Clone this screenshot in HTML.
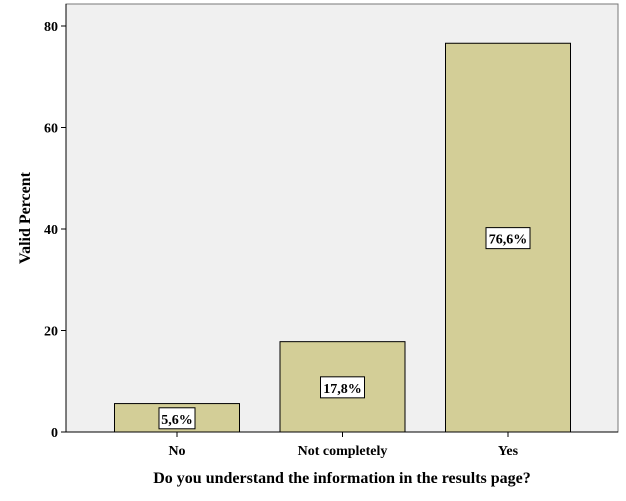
<!DOCTYPE html>
<html><head><meta charset="utf-8"><style>
body{margin:0;background:#fff;}
svg{display:block;font-family:"Liberation Serif",serif;}
</style></head><body>
<svg id="c" width="626" height="501"></svg>
<script>
const categories=["No","Not completely","Yes"];
const values=[5.6,17.8,76.6];
const valueLabels=["5,6%","17,8%","76,6%"];
const yTicks=[0,20,40,60,80];
const svg=document.getElementById('c');
const NS='http://www.w3.org/2000/svg';
const L=66,R=618,T=4,B=432;
const y=v=>B-v*(B-26)/80;
const step=165.5;
const xc=i=>L+111+step*i;
function el(tag,attrs,text){const e=document.createElementNS(NS,tag);for(const k in attrs)e.setAttribute(k,attrs[k]);if(text!==undefined)e.textContent=text;svg.appendChild(e);return e;}
let bg=el('rect',{x:L,y:T,width:R-L,height:B-T,fill:'#f0f0f0',stroke:'#777','stroke-width':1});


yTicks.forEach(t=>{
 let ln=el('line',{x1:L-5,x2:L,y1:y(t),y2:y(t),stroke:'#000'});
 
 
 let tx=el('text',{x:L-8,y:y(t)+5,'text-anchor':'end','font-size':14,'font-weight':'bold'},String(t));
 
 
});
values.forEach((v,i)=>{
 const cx=xc(i),w=125;
 let r=el('rect',{x:cx-w/2,y:y(v),width:w,height:B-y(v),fill:'#d3ce97',stroke:'#000','stroke-width':1});
 
 
 const my=(y(v)+B)/2;
 const bw=valueLabels[i].length*8+4;
 let lb=el('rect',{x:cx-bw/2,y:my-10,width:bw,height:21,fill:'#fff',stroke:'#000'});
 
 
 let lt=el('text',{x:cx,y:my+6,'text-anchor':'middle','font-size':14,'font-weight':'bold'},valueLabels[i]);
 
 
 let tk=el('line',{x1:cx,x2:cx,y1:B,y2:B+5,stroke:'#000'});
 
 
 let ct=el('text',{x:cx,y:B+23,'text-anchor':'middle','font-size':14,'font-weight':'bold'},categories[i]);
 
 
});
let ax=el('line',{x1:L,x2:L,y1:T,y2:B,stroke:'#000'});


let bx=el('line',{x1:L,x2:R,y1:B,y2:B,stroke:'#000'});


let xt=el('text',{x:342,y:483,'text-anchor':'middle','font-size':16,'font-weight':'bold'},'Do you understand the information in the results page?');


let yt=el('text',{x:0,y:0,'text-anchor':'middle','font-size':16,'font-weight':'bold',transform:'translate(30,218) rotate(-90)'},'Valid Percent');


</script>
</body></html>
